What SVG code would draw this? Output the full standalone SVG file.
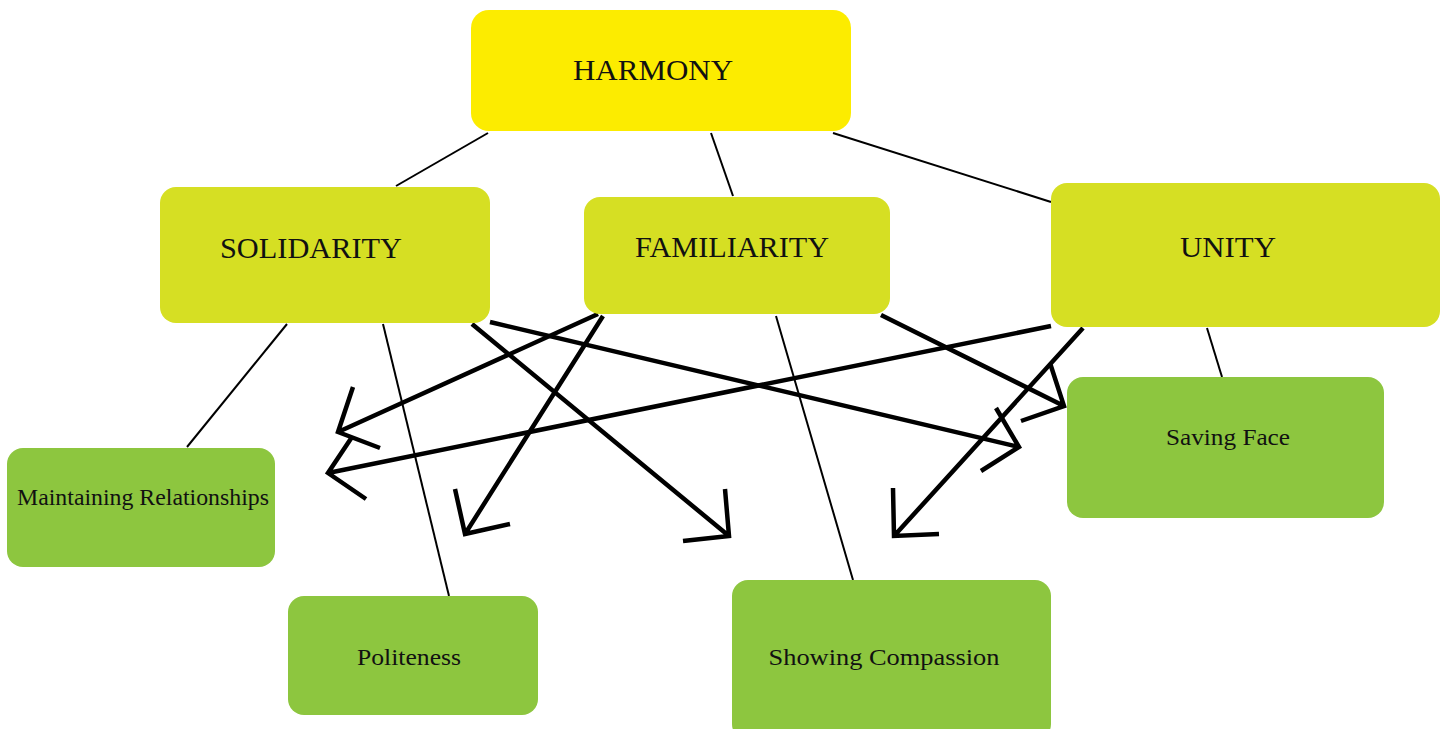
<svg xmlns="http://www.w3.org/2000/svg" width="1453" height="729" viewBox="0 0 1453 729">
<style>
.top{fill:#fcec00}
.mid{fill:#d6df23}
.leaf{fill:#8dc63f}
text{font-family:"Liberation Serif","DejaVu Serif",serif;fill:#111;text-anchor:middle;dominant-baseline:central}
.big{font-size:30px}
.small{font-size:23px}
.thin{stroke:#000;stroke-width:2;fill:none}
.thick{stroke:#000;stroke-width:4.5;fill:none}
</style>
<rect width="1453" height="729" fill="#fff"/>
<g id="connectors">
<path class="thin" d="M488,133 L396,186"/>
<path class="thin" d="M711,133 L733,196"/>
<path class="thin" d="M833,133 L1051,202"/>
<path class="thin" d="M287,324 L187,447"/>
<path class="thin" d="M383,324 L449,596"/>
<path class="thin" d="M776,316 L853,580"/>
<path class="thin" d="M1207,328 L1222,377"/>
<path class="thick" d="M472,324 L729,536 M725,489 L729,536 L683,541"/>
<path class="thick" d="M490,322 L1019,447 M996,408 L1019,447 L981,471"/>
<path class="thick" d="M598,314 L338,432 M353,387 L338,432 L380,448"/>
<path class="thick" d="M603,316 L465,534 M455,489 L465,534 L510,524"/>
<path class="thick" d="M881,315 L1064,406 M1050,363 L1064,406 L1021,421"/>
<path class="thick" d="M1051,326 L328,473 M352,437 L328,473 L366,499"/>
<path class="thick" d="M1083,328 L894,536 M893,488 L894,536 L939,534"/>
</g>
<g id="harmony"><rect class="top" x="471" y="10" width="380" height="121" rx="18"/><text class="big" x="653" y="69" textLength="160" lengthAdjust="spacingAndGlyphs">HARMONY</text></g>
<g id="solidarity"><rect class="mid" x="160" y="187" width="330" height="136" rx="16"/><text class="big" x="311" y="247" textLength="182" lengthAdjust="spacingAndGlyphs">SOLIDARITY</text></g>
<g id="familiarity"><rect class="mid" x="584" y="197" width="306" height="117" rx="16"/><text class="big" x="732" y="246" textLength="194" lengthAdjust="spacingAndGlyphs">FAMILIARITY</text></g>
<g id="unity"><rect class="mid" x="1051" y="183" width="389" height="144" rx="16"/><text class="big" x="1228" y="246" textLength="96" lengthAdjust="spacingAndGlyphs">UNITY</text></g>
<g id="maintaining"><rect class="leaf" x="7" y="448" width="268" height="119" rx="16"/><text class="small" x="143" y="497" textLength="252" lengthAdjust="spacingAndGlyphs">Maintaining Relationships</text></g>
<g id="politeness"><rect class="leaf" x="288" y="596" width="250" height="119" rx="16"/><text class="small" x="409" y="657" textLength="104" lengthAdjust="spacingAndGlyphs">Politeness</text></g>
<g id="compassion"><rect class="leaf" x="732" y="580" width="319" height="160" rx="16"/><text class="small" x="884" y="657" textLength="231" lengthAdjust="spacingAndGlyphs">Showing Compassion</text></g>
<g id="savingface"><rect class="leaf" x="1067" y="377" width="317" height="141" rx="16"/><text class="small" x="1228" y="437" textLength="124" lengthAdjust="spacingAndGlyphs">Saving Face</text></g>
</svg>
